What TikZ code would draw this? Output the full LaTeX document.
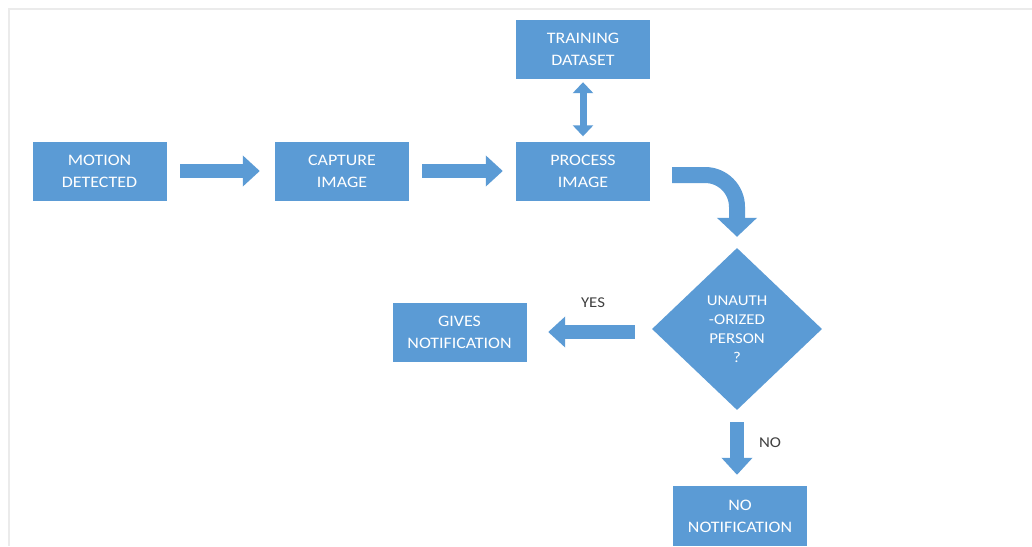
\documentclass[tikz,border=0pt]{standalone}
\usepackage{fontspec}
\setmainfont{Carlito}[FakeStretch=1.12]
\usetikzlibrary{arrows.meta,shapes.geometric,calc}
\definecolor{obox}{HTML}{5B9BD5}
\definecolor{olabel}{HTML}{404040}
\begin{document}
\begin{tikzpicture}[x=1pt,y=1pt,
  box/.style={fill=obox, text=white, minimum width=134pt, minimum height=59pt, inner sep=0pt, align=center, font=\fontsize{16}{22}\selectfont},
  dia/.style={diamond, fill=obox, text=white, minimum width=170pt, minimum height=162pt, inner sep=0pt, align=center, font=\fontsize{15}{19}\selectfont},
  lbl/.style={text=olabel, font=\fontsize{15}{17}\selectfont},
  fat/.style={draw=obox, line width=14pt, -{Triangle[width=30pt,length=17pt]}},
  dbl/.style={draw=obox, line width=7pt, {Triangle[width=20pt,length=11pt]}-{Triangle[width=20pt,length=11pt]}},
  frame/.style={draw=gray!16, line width=2pt}]
\useasboundingbox (0,0) rectangle (1032,-546);
\fill[white] (0,0) rectangle (1032,-546);
\draw[frame] (9,-546) -- (9,-9) -- (1032,-9);

\node[box] (md) at (99.5,-171) {MOTION\\DETECTED};
\node[box] (ci) at (342,-171) {CAPTURE\\IMAGE};
\node[box] (pi) at (583,-171) {PROCESS\\IMAGE};
\node[box] (td) at (583,-49.5) {TRAINING\\DATASET};
\node[dia] (up) at (737,-329) {UNAUTH\\-ORIZED\\PERSON\\?};
\node[box] (gn) at (459.5,-332) {GIVES\\NOTIFICATION};
\node[box, minimum height=60pt] (nn) at (740,-516) {NO\\NOTIFICATION};

\draw[fat, shorten <=13.5pt, shorten >=15pt] (md) -- (ci);
\draw[fat, shorten <=13pt, shorten >=13pt] (ci) -- (pi);
\draw[dbl, shorten <=3pt, shorten >=5pt] (td) -- (pi);
\draw[fat, line width=16pt, rounded corners=32pt, -{Triangle[width=39pt,length=19pt]}, shorten >=11pt] ([xshift=22pt,yshift=-4pt]pi.east) -| (up.north);
\draw[fat, shorten <=17pt, shorten >=21.5pt] (gn.east -| up.west) -- (gn.east);
\draw[fat, shorten <=12pt, shorten >=11pt] (up.south) -- (up.south |- nn.north);

\node[lbl] (yes) at (593,-303) {YES};
\node[lbl] (no) at (770,-443) {NO};
\end{tikzpicture}
\end{document}
